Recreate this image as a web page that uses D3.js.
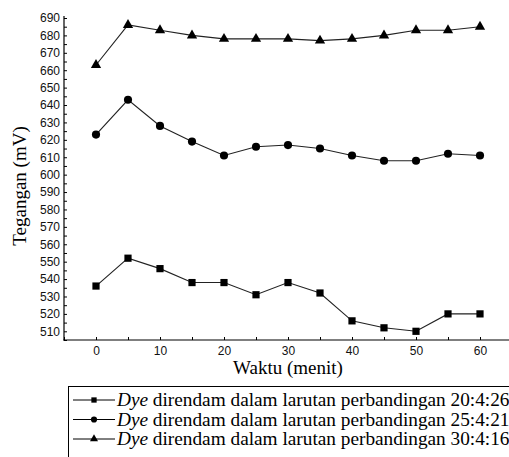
<!DOCTYPE html>
<html><head><meta charset="utf-8">
<script src="https://cdn.jsdelivr.net/npm/d3@7"></script>
<style>
html,body{margin:0;padding:0;background:#fff;}
svg{display:block;}
</style>
</head><body>
<svg id="chart" width="509" height="457"></svg>
<script>
const times = [0,5,10,15,20,25,30,35,40,45,50,55,60];
const series20426 = [536,552,546,538,538,531,538,532,516,512,510,520,520];
const series25421 = [623,643,628,619,611,616,617,615,611,608,608,612,611];
const series30416 = [663,686,683,680,678,678,678,677,678,680,683,683,685];
const xTicks = [0,10,20,30,40,50,60];
const legendLabels = ["20:4:26","25:4:21","30:4:16"];

const serif = "Liberation Serif, Times New Roman, serif";
const sans = "Liberation Sans, Arial, sans-serif";

const svg = d3.select("#chart");
const x = d3.scaleLinear().domain([-5,65]).range([64,512]);
const y = d3.scaleLinear().domain([505,690]).range([340,18]);

const seriesList = [
  {vals: series20426, sym: d3.symbolSquare, size: 52, lsize: 28},
  {vals: series25421, sym: d3.symbolCircle, size: 52, lsize: 30},
  {vals: series30416, sym: d3.symbolTriangle, size: 46, lsize: 28}
];

// axes
const yAxis = d3.axisLeft(y).tickValues(d3.range(505,691,5)).tickSize(-3).tickPadding(4)
  .tickFormat(d => d % 10 === 0 ? d : "");
const gy = svg.append("g").attr("transform","translate(64,0)").call(yAxis);
gy.select(".domain").attr("stroke","#000").attr("stroke-width",1.2).attr("d","M0,16V340.5");
gy.selectAll(".tick line").attr("stroke","#000");
gy.selectAll(".tick text").attr("font-family",sans).attr("font-size",12).attr("fill","#111");

const xAxis = d3.axisBottom(x).tickValues(d3.range(-5,66,5)).tickSize(-3).tickPadding(6)
  .tickFormat(d => xTicks.includes(d) ? d : "");
const gx = svg.append("g").attr("transform","translate(0,340)").call(xAxis);
gx.select(".domain").attr("stroke","#000").attr("stroke-width",1.2).attr("d","M63.4,0H512");
gx.selectAll(".tick line").attr("stroke","#000");
gx.selectAll(".tick text").attr("font-family",sans).attr("font-size",12).attr("fill","#111");

// axis titles
svg.append("text").attr("x",x(30)).attr("y",374).attr("text-anchor","middle")
  .style("font-family",serif).attr("font-size",19).text("Waktu (menit)");
svg.append("text").attr("transform","translate(26,186) rotate(-90)").attr("text-anchor","middle")
  .style("font-family",serif).attr("font-size",19).text("Tegangan (mV)");

// lines and markers
const line = d3.line().x((d,i)=>x(times[i])).y(d=>y(d));
seriesList.forEach(s => {
  svg.append("path").attr("d", line(s.vals)).attr("fill","none").attr("stroke","#222").attr("stroke-width",1.1);
  svg.selectAll(null).data(s.vals).enter().append("path")
    .attr("d", d3.symbol().type(s.sym).size(s.size))
    .attr("transform",(d,i)=>`translate(${x(times[i])},${y(d)})`)
    .attr("fill","#000");
});

// legend
svg.append("rect").attr("x",68.5).attr("y",386.5).attr("width",460).attr("height",90)
  .attr("fill","none").attr("stroke","#000").attr("stroke-width",1);
const rowBase = [406,425.5,445];
seriesList.forEach((s,k) => {
  const cy = rowBase[k]-6;
  svg.append("line").attr("x1",73).attr("x2",115).attr("y1",cy).attr("y2",cy).attr("stroke","#000").attr("stroke-width",1);
  svg.append("path").attr("d", d3.symbol().type(s.sym).size(s.lsize)).attr("transform",`translate(94,${cy})`).attr("fill","#000");
  const t = svg.append("text").attr("x",117).attr("y",rowBase[k]).style("font-family",serif).attr("font-size",19.3);
  t.append("tspan").attr("font-style","italic").text("Dye");
  t.append("tspan").text(" direndam dalam larutan perbandingan " + legendLabels[k]);
});
</script>
</body></html>
